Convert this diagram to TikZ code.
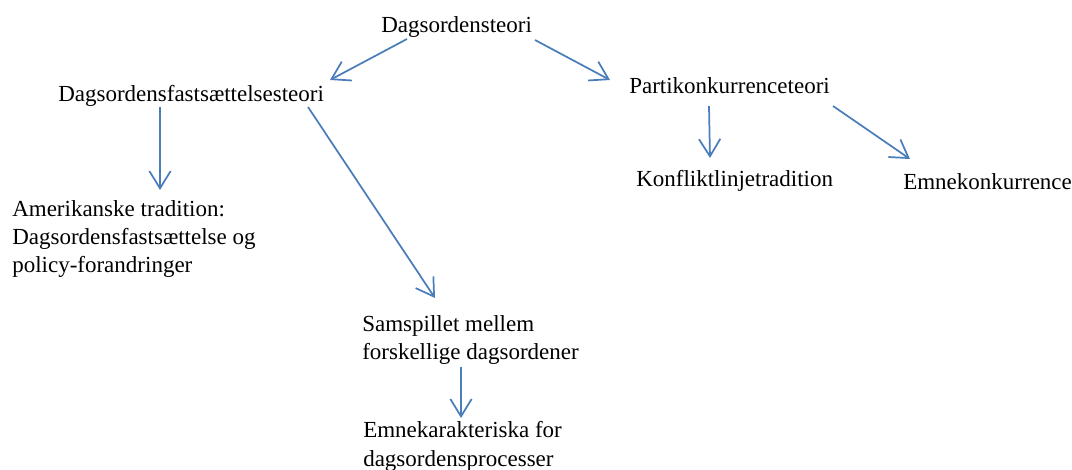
\documentclass[tikz,border=0pt]{standalone}
\usepackage{fontspec}
\setmainfont{Liberation Serif}
\usetikzlibrary{arrows.meta}
\definecolor{arrblue}{RGB}{74,126,187}
\tikzset{
  lbl/.style={inner sep=0pt, anchor=base west, align=left,
    font=\fontsize{17.25pt}{21pt}\selectfont},
  arr/.style={draw=arrblue, line width=1.3pt,
    -{Straight Barb[length=13pt,width=16pt,line width=1.3pt]}}
}
\begin{document}
\begin{tikzpicture}[x=0.75pt,y=-0.75pt]
\useasboundingbox (0,0) rectangle (1072,470);
\node[lbl] (top) at (381,33) {Dagsordensteori};
\node[lbl] (dft) at (58,102) {Dagsordensfastsættelsesteori};
\node[lbl] (pk) at (629,94) {Partikonkurrenceteori};
\node[lbl] (kt) at (636,187) {Konfliktlinjetradition};
\node[lbl] (ek) at (903,190) {Emnekonkurrence};
\node[lbl] (am) at (12,273) {Amerikanske tradition:\\Dagsordensfastsættelse og\\policy-forandringer};
\node[lbl] (sm) at (362,360) {Samspillet mellem\\forskellige dagsordener};
\node[lbl] (ekar) at (363,466) {Emnekarakteriska for\\dagsordensprocesser};
% connector end points
\coordinate (a1s) at (407,39);  \coordinate (a1e) at (330,80);
\coordinate (a2s) at (535,40);  \coordinate (a2e) at (610,80);
\coordinate (a3s) at (160,107); \coordinate (a3e) at (160,190);
\coordinate (a4s) at (308,107); \coordinate (a4e) at (435,298);
\coordinate (a5s) at (709,106); \coordinate (a5e) at (710,158);
\coordinate (a6s) at (833,106); \coordinate (a6e) at (910,159);
\coordinate (a7s) at (461,367); \coordinate (a7e) at (461,418);
\draw[arr] (a1s) -- (a1e);
\draw[arr] (a2s) -- (a2e);
\draw[arr] (a3s) -- (a3e);
\draw[arr] (a4s) -- (a4e);
\draw[arr] (a5s) -- (a5e);
\draw[arr] (a6s) -- (a6e);
\draw[arr] (a7s) -- (a7e);
\end{tikzpicture}
\end{document}
